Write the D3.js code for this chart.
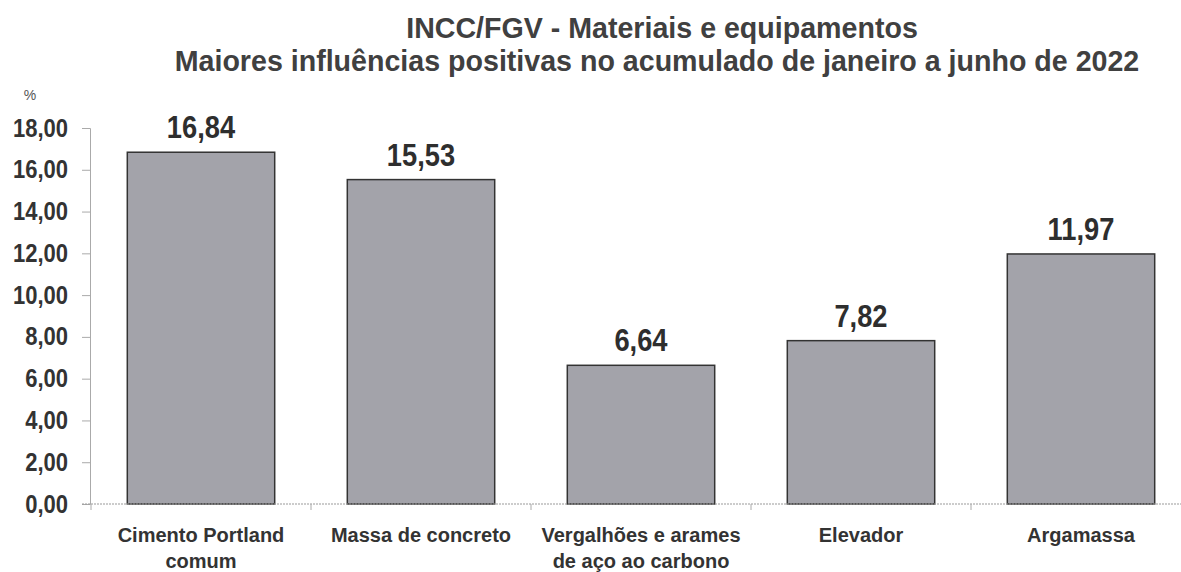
<!DOCTYPE html>
<meta charset="utf-8">
<script src="https://d3js.org/d3.v7.min.js"></script>
<style>
  body { margin: 0; background: #fff; }
  text { font-family: "Liberation Sans", Arial, sans-serif; fill: #333; }
</style>
<div id="chart"></div>
<script>
    // data
    var categories = [
        ["Cimento Portland", "comum"],
        ["Massa de concreto"],
        ["Vergalhões e arames", "de aço ao carbono"],
        ["Elevador"],
        ["Argamassa"]
    ];
    var values = [16.84, 15.53, 6.64, 7.82, 11.97];
    var yTicks = [0, 2, 4, 6, 8, 10, 12, 14, 16, 18];
    var titleLines = ["INCC/FGV - Materiais e equipamentos",
                      "Maiores influências positivas no acumulado de janeiro a junho de 2022"];

    var W = 1181, H = 572;
    var fmt = function (v) { return d3.format(".2f")(v).replace(".", ","); };

    // squeeze text a bit, the original uses a narrow face
    function narrow(sel, k) {
        sel.each(function () {
            var len = this.getComputedTextLength();
            d3.select(this).attr("textLength", len * k).attr("lengthAdjust", "spacingAndGlyphs");
        });
    }

    var svg = d3.select("#chart").append("svg")
        .attr("width", W).attr("height", H);

    var x = d3.scaleBand()
        .domain(d3.range(values.length))
        .range([91, 1191])
        .paddingInner(0.33)
        .paddingOuter(0.165);

    var y = d3.scaleLinear()
        .domain([0, 18])
        .range([504, 128]);

    // title
    svg.selectAll(".title")
        .data(titleLines)
        .enter().append("text")
        .attr("class", "title")
        .attr("x", function (d, i) { return i ? 657 : 662; })
        .attr("y", function (d, i) { return 38 + i * 33; })
        .attr("text-anchor", "middle")
        .style("font-weight", "bold")
        .style("font-size", "28.6px")
        .style("fill", "#404040")
        .text(function (d) { return d; });

    // % label
    svg.append("text")
        .attr("x", 30).attr("y", 100)
        .attr("text-anchor", "middle")
        .style("font-size", "14px")
        .style("fill", "#555")
        .text("%");

    // Y axis
    var yAxis = svg.append("g")
        .attr("transform", "translate(90,0)")
        .call(d3.axisLeft(y).tickValues(yTicks).tickFormat(fmt).tickSize(8).tickPadding(14));
    yAxis.select(".domain").attr("stroke", "#aaa");
    yAxis.selectAll(".tick line").attr("stroke", "#aaa");
    yAxis.selectAll(".tick text")
        .style("font-size", "25px")
        .style("font-weight", "bold")
        .style("fill", "#333")
        .call(narrow, 0.88);

    // bars
    svg.append("g")
        .selectAll("rect")
        .data(values)
        .enter().append("rect")
        .attr("x", function (d, i) { return x(i); })
        .attr("y", function (d) { return y(d); })
        .attr("width", x.bandwidth())
        .attr("height", function (d) { return y(0) - y(d); })
        .attr("fill", "#a3a3aa")
        .attr("stroke", "#333")
        .attr("stroke-width", 1.5);

    // value labels
    svg.append("g")
        .selectAll("text")
        .data(values)
        .enter().append("text")
        .attr("x", function (d, i) { return x(i) + x.bandwidth() / 2; })
        .attr("y", function (d) { return y(d) - 14; })
        .attr("text-anchor", "middle")
        .style("font-size", "31px")
        .style("font-weight", "bold")
        .style("fill", "#2e2e2e")
        .text(fmt)
        .call(narrow, 0.88);

    // x axis baseline (dotted) and category boundary ticks
    svg.append("line")
        .attr("x1", 82).attr("x2", W)
        .attr("y1", y(0)).attr("y2", y(0))
        .attr("stroke", "#999")
        .attr("stroke-dasharray", "2,1");
    svg.append("g")
        .selectAll("line")
        .data(d3.range(values.length + 1))
        .enter().append("line")
        .attr("x1", function (i) { return x.range()[0] + i * x.step(); })
        .attr("x2", function (i) { return x.range()[0] + i * x.step(); })
        .attr("y1", y(0)).attr("y2", y(0) + 6)
        .attr("stroke", "#aaa");

    // category labels
    var cat = svg.append("g")
        .selectAll("text")
        .data(categories)
        .enter().append("text")
        .attr("x", function (d, i) { return x(i) + x.bandwidth() / 2; })
        .attr("y", 542)
        .attr("text-anchor", "middle")
        .style("font-size", "20px")
        .style("font-weight", "bold")
        .style("fill", "#333");
    cat.selectAll("tspan")
        .data(function (d) { return d; })
        .enter().append("tspan")
        .attr("x", function () { return this.parentNode.getAttribute("x"); })
        .attr("dy", function (d, i) { return i ? 26 : 0; })
        .text(function (d) { return d; });
</script>
